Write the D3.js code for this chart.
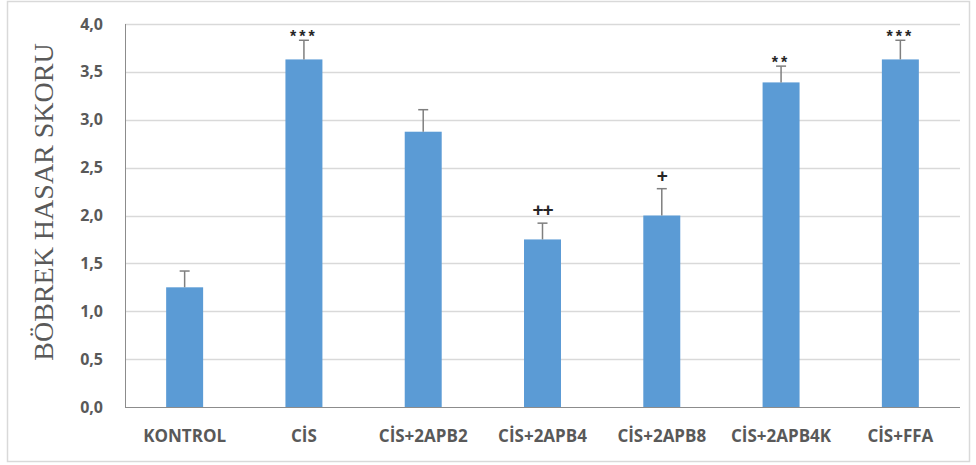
<!DOCTYPE html>
<html>
<head>
<meta charset="utf-8">
<style>
  body { margin: 0; background: #fff; }
  .tick-y { font-family: "Open Sans", sans-serif; font-weight: bold; font-size: 16px; fill: #595959; }
  .tick-x { font-family: "Open Sans", sans-serif; font-weight: bold; font-size: 17px; fill: #595959; }
  .ytitle { font-family: "Liberation Serif", serif; font-size: 28px; fill: #595959; }
  .mark { font-family: "Liberation Sans", sans-serif; font-weight: bold; fill: #262626; }
</style>
</head>
<body>
<script src="https://d3js.org/d3.v7.min.js"></script>
<script>
var categories = ["KONTROL", "CİS", "CİS+2APB2", "CİS+2APB4", "CİS+2APB8", "CİS+2APB4K", "CİS+FFA"];
var values = [1.25, 3.63, 2.875, 1.75, 2.0, 3.39, 3.63];
var errors = [0.17, 0.20, 0.23, 0.17, 0.28, 0.17, 0.20];
var marks = ["", "***", "", "++", "+", "**", "***"];
var yTicks = [0, 0.5, 1, 1.5, 2, 2.5, 3, 3.5, 4];

var W = 976, H = 465;
var margin = {top: 24, right: 16, bottom: 58, left: 125};
var width = W - margin.left - margin.right,
    height = H - margin.top - margin.bottom;

var svg = d3.select("body").append("svg")
    .attr("width", W)
    .attr("height", H);

// outer frame
svg.append("rect")
    .attr("x", 7.5).attr("y", 1.5)
    .attr("width", W - 14).attr("height", H - 5)
    .attr("fill", "none")
    .attr("stroke", "#d9d9d9")
    .attr("stroke-width", 1.5);

var g = svg.append("g")
    .attr("transform", "translate(" + margin.left + "," + margin.top + ")");

var x = d3.scaleBand()
    .domain(categories)
    .range([0, width])
    .paddingInner(0.69)
    .paddingOuter(0.345);

var y = d3.scaleLinear()
    .domain([0, 4])
    .range([height, 0]);

// gridlines
g.selectAll(".grid")
    .data(yTicks.slice(1))
  .enter().append("line")
    .attr("x1", 0).attr("x2", width)
    .attr("y1", function(d){ return Math.round(y(d)) + 0.5; })
    .attr("y2", function(d){ return Math.round(y(d)) + 0.5; })
    .attr("stroke", "#d9d9d9")
    .attr("stroke-width", 1.5);

// y tick labels
var fmt = function(d){ return d3.format(".1f")(d).replace(".", ","); };
g.selectAll(".tick-y")
    .data(yTicks)
  .enter().append("text")
    .attr("class", "tick-y")
    .attr("x", -22)
    .attr("y", function(d){ return y(d); })
    .attr("dy", "0.35em")
    .attr("text-anchor", "end")
    .text(fmt);

// bars
g.selectAll(".bar")
    .data(values)
  .enter().append("rect")
    .attr("class", "bar")
    .attr("x", function(d, i){ return x(categories[i]); })
    .attr("width", x.bandwidth())
    .attr("y", function(d){ return y(d); })
    .attr("height", function(d){ return height - y(d); })
    .attr("fill", "#5b9bd5");

// error bars
var eb = g.selectAll(".err")
    .data(values)
  .enter().append("g")
    .attr("transform", function(d, i){ return "translate(" + (x(categories[i]) + x.bandwidth() / 2) + ",0)"; });
eb.append("line")
    .attr("x1", 0).attr("x2", 0)
    .attr("y1", function(d){ return y(d); })
    .attr("y2", function(d, i){ return y(d + errors[i]); })
    .attr("stroke", "#7f7f7f").attr("stroke-width", 1.5);
eb.append("line")
    .attr("x1", -5).attr("x2", 5)
    .attr("y1", function(d, i){ return y(d + errors[i]); })
    .attr("y2", function(d, i){ return y(d + errors[i]); })
    .attr("stroke", "#7f7f7f").attr("stroke-width", 1.5);

// significance marks
g.selectAll(".mark")
    .data(values)
  .enter().append("text")
    .attr("class", "mark")
    .attr("x", function(d, i){ return x(categories[i]) + x.bandwidth() / 2; })
    .attr("y", function(d, i){ return y(d + errors[i]) + (marks[i].indexOf("*") >= 0 ? 2 : -7); })
    .attr("text-anchor", "middle")
    .style("font-size", function(d, i){ return marks[i].indexOf("*") >= 0 ? "16px" : "19px"; })
    .style("letter-spacing", function(d, i){ return marks[i].indexOf("*") >= 0 ? "3px" : "-1px"; })
    .text(function(d, i){ return marks[i]; });

// axes lines
g.append("line")
    .attr("x1", 0.5).attr("x2", 0.5)
    .attr("y1", 0).attr("y2", height)
    .attr("stroke", "#8c8c8c");
g.append("line")
    .attr("x1", 0).attr("x2", width)
    .attr("y1", height + 0.5).attr("y2", height + 0.5)
    .attr("stroke", "#8c8c8c");

// x labels
g.selectAll(".tick-x")
    .data(categories)
  .enter().append("text")
    .attr("class", "tick-x")
    .attr("x", function(d){ return x(d) + x.bandwidth() / 2; })
    .attr("y", height + 35)
    .attr("text-anchor", "middle")
    .text(function(d){ return d; });

// y title
svg.append("text")
    .attr("class", "ytitle")
    .attr("transform", "translate(53," + 202 + ") rotate(-90)")
    .attr("text-anchor", "middle")
    .text("BÖBREK HASAR SKORU");
</script>
</body>
</html>
